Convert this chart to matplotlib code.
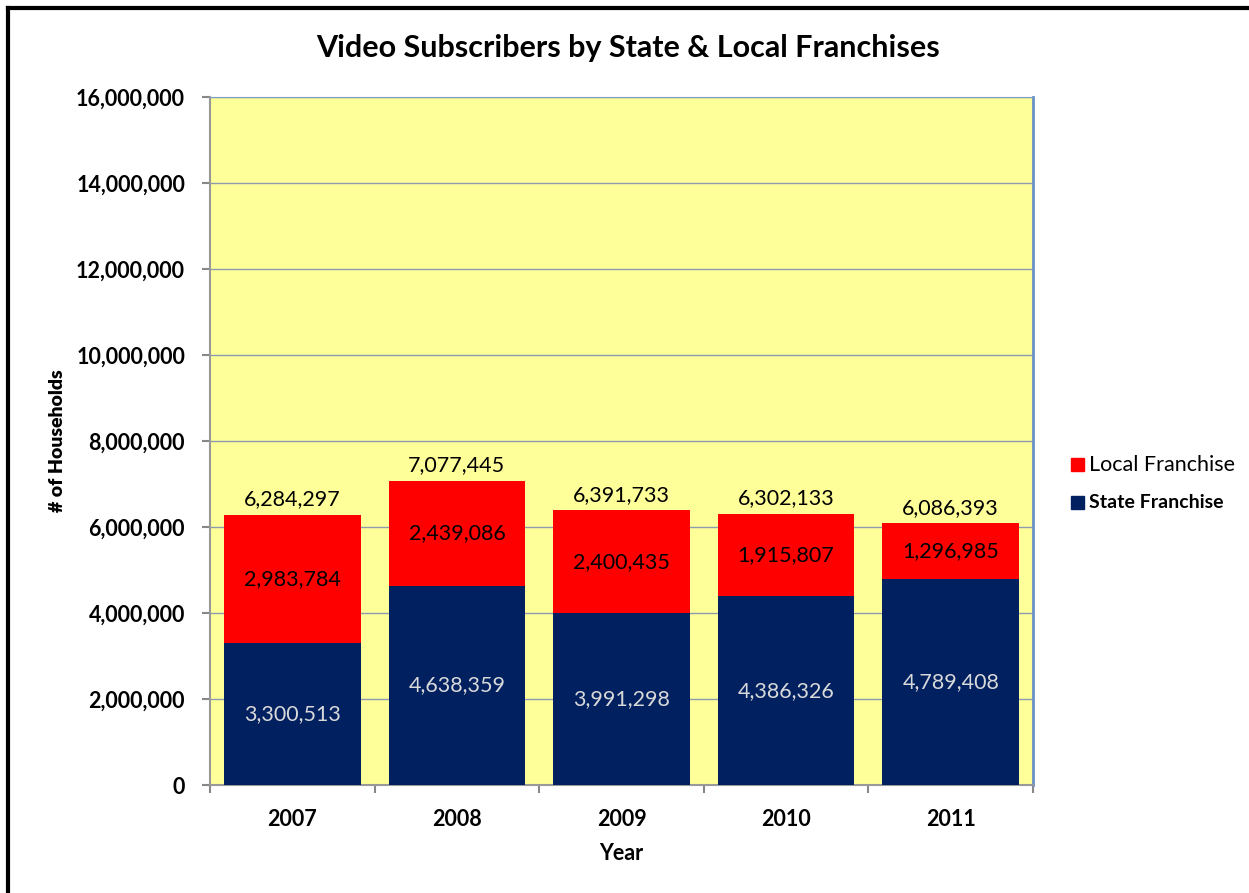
import matplotlib
matplotlib.use("Agg")
import matplotlib.pyplot as plt
from matplotlib.lines import Line2D
from matplotlib.patches import Rectangle
import numpy as np

years = ["2007", "2008", "2009", "2010", "2011"]
state = [3300513, 4638359, 3991298, 4386326, 4789408]
local = [2983784, 2439086, 2400435, 1915807, 1296985]
totals = [6284297, 7077445, 6391733, 6302133, 6086393]

plt.rcParams['font.family'] = ['Lato', 'DejaVu Sans']

W, H = 1249, 893
fig = plt.figure(figsize=(W/100, H/100), dpi=100)
ax = fig.add_axes([210/W, 1-785/H, (1033-210)/W, (785-97)/H])
ax.set_facecolor('#FFFF99')

x = np.arange(len(years))
bw = 0.83
navy = '#002060'
red = '#FF0000'
ax.bar(x, state, bw, color=navy, zorder=3, label='State Franchise')
ax.bar(x, local, bw, bottom=state, color=red, zorder=3, label='Local Franchise')

for i in range(len(years)):
    ax.text(x[i], state[i]/2, f"{state[i]:,}", ha='center', va='center',
            color='#D9D9D9', fontsize=15.5, zorder=4)
    ax.text(x[i], state[i] + local[i]/2, f"{local[i]:,}", ha='center', va='center',
            color='black', fontsize=15.5, zorder=4)
    ax.annotate(f"{totals[i]:,}", (x[i], totals[i]), xytext=(0, 4), textcoords='offset points',
                ha='center', va='bottom', color='black', fontsize=15.5, zorder=4)

ax.set_xlim(-0.5, len(years)-0.5)
ax.set_ylim(0, 16000000)
ax.set_yticks(np.arange(0, 16000001, 2000000))
ax.set_yticklabels([f"{v:,}" for v in range(0, 16000001, 2000000)], fontsize=15.5, fontweight='bold')
ax.yaxis.grid(True, color='#8C9BB0', linewidth=1, zorder=1)
ax.set_axisbelow(True)

ax.set_xticks(x)
ax.set_xticklabels(years, fontsize=15.5, fontweight='bold')
ax.set_xticks(np.arange(-0.5, len(years), 1), minor=True)
ax.tick_params(axis='x', which='major', length=0, pad=17)
ax.tick_params(axis='x', which='minor', length=6, color='#888888', width=1.5)
ax.tick_params(axis='y', length=6, color='#888888', width=1.5, pad=12)

for s in ['left', 'bottom']:
    ax.spines[s].set_color('#999999')
    ax.spines[s].set_linewidth(1.5)
ax.spines['top'].set_color('#7A9CC8')
ax.spines['right'].set_color('#6A90C8')
ax.spines['right'].set_linewidth(2)

ax.set_xlabel('Year', fontsize=15.5, fontweight='bold', labelpad=10)
ax.set_ylabel('# of Households', fontsize=14, fontweight='heavy', labelpad=7)

fig.text(628/W, 1-48/H, 'Video Subscribers by State & Local Franchises',
         ha='center', va='center', fontsize=22, fontweight='bold')

# legend
lx, ly1, ly2 = 1078, 465, 503
for yy, col in [(ly1, red), (ly2, navy)]:
    fig.add_artist(Rectangle(((lx-7)/W, 1-(yy+6)/H), 13/W, 13/H,
                             color=col, transform=fig.transFigure))
fig.text(1089/W, 1-ly1/H, 'Local Franchise', ha='left', va='center', fontsize=15.5)
fig.text(1089/W, 1-ly2/H, 'State Franchise', ha='left', va='center', fontsize=14, fontweight='bold')

# outer border (left and top)
fig.add_artist(Line2D([8/W, 8/W], [0, 1-8/H], color='black', linewidth=3, transform=fig.transFigure))
fig.add_artist(Line2D([8/W, 1], [1-8/H, 1-8/H], color='black', linewidth=3, transform=fig.transFigure))

fig.savefig('out.png', dpi=100)
